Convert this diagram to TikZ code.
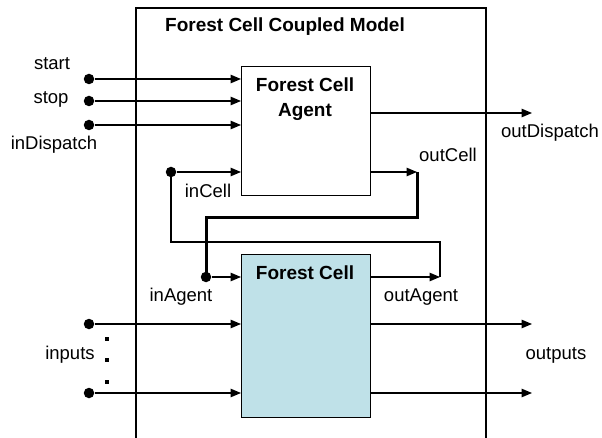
\documentclass[tikz,border=0pt]{standalone}
\usepackage{fontspec}
\setmainfont{Liberation Sans}
\usetikzlibrary{arrows.meta}
\definecolor{cellblue}{RGB}{191,225,232}
\begin{document}
\begin{tikzpicture}[x=1pt,y=-1pt,
  line width=1.3pt,
  lbl/.style={font=\fontsize{18.5}{22}\selectfont, inner sep=0pt},
  ttl/.style={font=\fontsize{19}{24.5}\selectfont\bfseries, inner sep=0pt},
  port/.style={circle, fill, inner sep=0pt, minimum size=10.5pt},
  sdot/.style={rectangle, fill, inner sep=0pt, minimum size=3.5pt},
  arr/.style={-{Triangle[length=10.5pt,width=8.5pt]}},
  thickline/.style={line width=3pt},
  blk/.style={draw, rectangle, line width=1.3pt, inner sep=0pt, anchor=north west}
]
\useasboundingbox (0,0) rectangle (602,438);
% outer coupled model frame (open at bottom)
\draw (136,438) -- (136,8) -- (486,8) -- (486,438);
\node[ttl] (title) at (285,27) {Forest Cell Coupled Model};

% blocks
\node[blk, minimum width=129pt, minimum height=129pt] (agent) at (241,66) {};
\node[ttl, align=center] (agentlbl) at (305,99) {Forest Cell\\Agent};
\node[blk, fill=cellblue, minimum width=129pt, minimum height=163pt] (cell) at (241,254) {};
\node[ttl] (celllbl) at (305,273) {Forest Cell};

% agent inputs
\node[port] (start) at (89,79) {};
\node[port] (stop) at (89,101) {};
\node[port] (indisp) at (89,125) {};
\draw[arr] (start) -- (start -| agent.west);
\draw[arr] (stop) -- (stop -| agent.west);
\draw[arr] (indisp) -- (indisp -| agent.west);
\node[lbl] (startlbl) at (52,64) {start};
\node[lbl] (stoplbl) at (51,99) {stop};
\node[lbl] (indisplbl) at (54,145) {inDispatch};

% agent output outDispatch
\coordinate (outdisp) at (532,113);
\draw[arr] (outdisp -| agent.east) -- (outdisp);
\node[lbl] (outdisplbl) at (550,133) {outDispatch};

% inCell / outCell
\node[port] (incell) at (171,172) {};
\draw[arr] (incell) -- (incell -| agent.west);
\node[lbl] (incelllbl) at (208,191) {inCell};
\coordinate (outcell) at (417,172);
\draw[arr] (outcell -| agent.east) -- (outcell);
\node[lbl] (outcelllbl) at (448,155) {outCell};

% inAgent / outAgent
\node[port] (inagent) at (206,277) {};
\draw[arr] (inagent) -- (inagent -| cell.west);
\node[lbl] (inagentlbl) at (181,297) {inAgent};
\coordinate (outagent) at (440,277);
\draw[arr] (outagent -| cell.east) -- (outagent);
\node[lbl] (outagentlbl) at (421,297) {outAgent};

% couplings
\draw[thickline] (outcell) -- ++(0,46) -| (inagent.center);
\draw (outagent) -- ++(0,-35) -| (incell.center);

% inputs / outputs
\node[port] (in1) at (89,324) {};
\node[port] (in2) at (89,393) {};
\draw[arr] (in1) -- (in1 -| cell.west);
\draw[arr] (in2) -- (in2 -| cell.west);
\node[sdot] (d1) at (107,339) {};
\node[sdot] (d2) at (107,360) {};
\node[sdot] (d3) at (107,382) {};
\node[lbl] (inlbl) at (70,355) {inputs};
\coordinate (out1) at (532,324);
\coordinate (out2) at (532,393);
\draw[arr] (out1 -| cell.east) -- (out1);
\draw[arr] (out2 -| cell.east) -- (out2);
\node[lbl] (outlbl) at (556,355) {outputs};
\end{tikzpicture}
\end{document}
